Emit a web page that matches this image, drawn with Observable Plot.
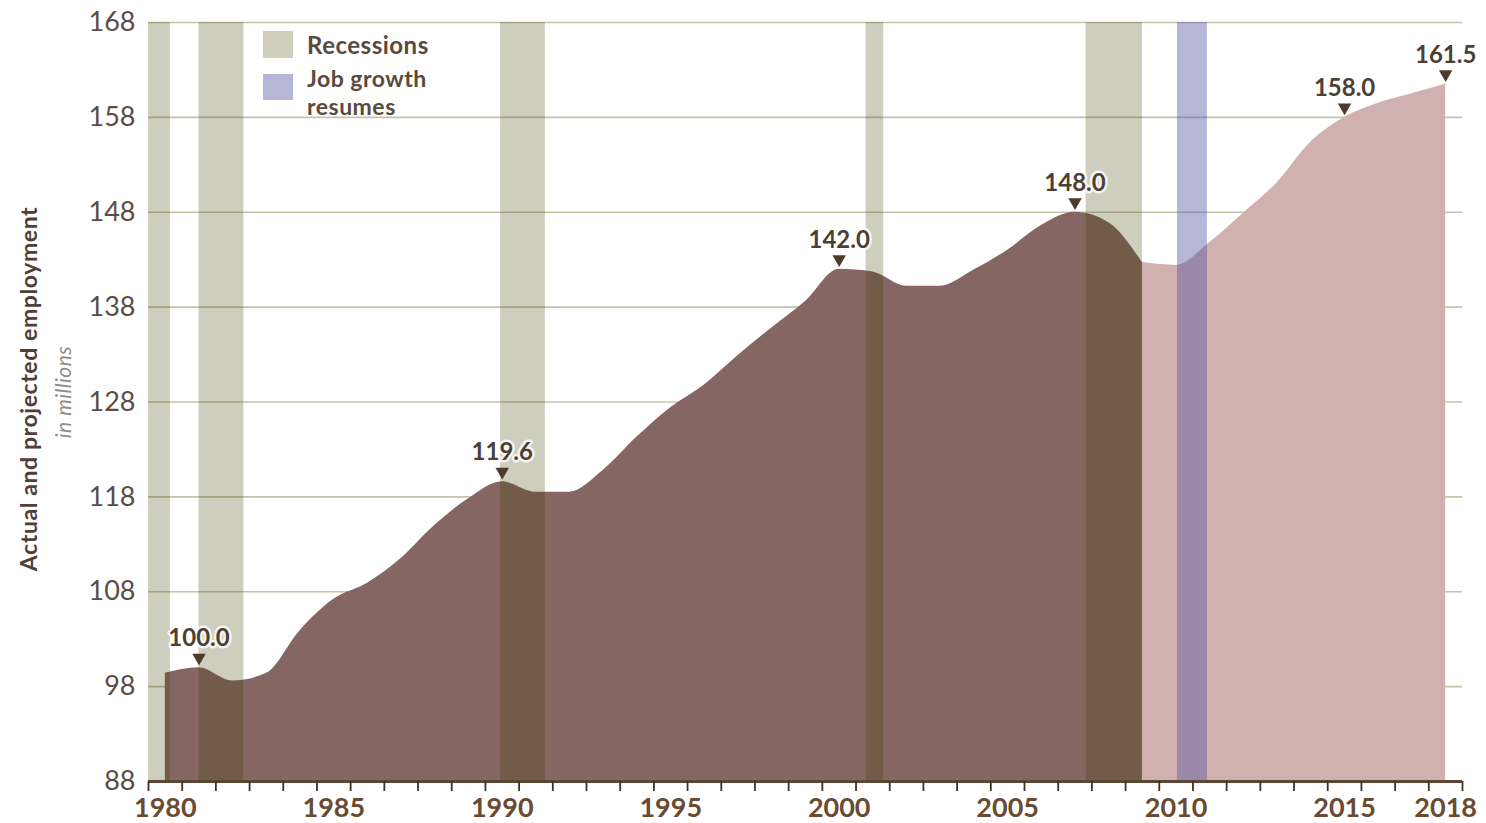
<!DOCTYPE html>
<html><head><meta charset="utf-8">
<script src="https://cdn.jsdelivr.net/npm/d3@7"></script>
<script src="https://cdn.jsdelivr.net/npm/@observablehq/plot@0.6"></script>
<style>
body{margin:0;background:#fff;font-family:Lato,"Open Sans",sans-serif;}
#wrap{position:relative;width:1486px;height:823px;overflow:hidden;}
#chart{position:absolute;left:0;top:0;}
.sw{position:absolute;left:263px;width:30px;}
.lt{position:absolute;left:307px;font-weight:700;font-size:24px;color:#5a4a3b;line-height:22px;white-space:nowrap;letter-spacing:0.5px;}
.yt{position:absolute;white-space:nowrap;transform:translate(-50%,-50%) rotate(-90deg);}
</style></head><body>
<div id="wrap">
  <div id="chart"></div>
  <div class="sw" style="top:31px;height:27px;background:#cfcfbc"></div>
  <div class="lt" style="top:34px">Recessions</div>
  <div class="sw" style="top:74px;height:26px;background:#b6b7d8"></div>
  <div class="lt" style="top:67px;font-size:23px">Job growth</div>
  <div class="lt" style="top:95px;font-size:23px">resumes</div>
  <div class="yt" style="left:28px;top:389px;font-weight:700;font-size:23px;letter-spacing:0.6px;color:#4e4036">Actual and projected employment</div>
  <div class="yt" style="left:62px;top:392px;font-style:italic;font-size:21px;letter-spacing:0.5px;color:#8c8c8c">in millions</div>
</div>
<script>
// Actual employment (millions), annual
const actualYears = [1980,1981,1982,1983,1984,1985,1986,1987,1988,1989,1990,1991,1992,1993,1994,1995,1996,1997,1998,1999,2000,2001,2002,2003,2004,2005,2006,2007,2008,2009];
const actualValues = [99.4,100.0,98.6,99.4,103.9,107.2,108.9,111.5,115.0,117.8,119.6,118.5,118.5,120.8,124.3,127.4,129.8,132.9,135.8,138.6,142.0,141.7,140.2,140.2,141.9,144.0,146.6,148.0,146.9,142.7];
// Projected employment (millions)
const projYears = [2009,2010,2011,2012,2013,2014,2015,2016,2017,2018];
const projValues = [142.7,142.4,144.8,147.9,151.1,155.4,158.0,159.5,160.5,161.5];
// Recession periods (fractional years)
const recStart = [1980.0,1981.5,1990.45,2001.3,2007.83];
const recEnd   = [1980.65,1982.83,1991.78,2001.82,2009.5];
// Job growth resumes
const jobStart = [2010.54];
const jobEnd   = [2011.43];
// Labelled values
const peakYears  = [1981,1990,2000,2007,2015,2018];
const peakValues = [100.0,119.6,142.0,148.0,158.0,161.5];
// Axis ticks
const yTicks = [88,98,108,118,128,138,148,158,168];
const xLabelYears = [1980,1985,1990,1995,2000,2005,2010,2015,2018];
const xTickYears = d3.range(1980, 2020);

const actual = actualYears.map((y,i)=>({year:y, value:actualValues[i]}));
const projected = projYears.map((y,i)=>({year:y, value:projValues[i]}));
const recessions = recStart.map((s,i)=>({start:s, end:recEnd[i]}));
const jobs = jobStart.map((s,i)=>({start:s, end:jobEnd[i]}));
const peaks = peakYears.map((y,i)=>({year:y, value:peakValues[i]}));
const mid = d => d.year + 0.5;

const chart = Plot.plot({
  width:1486, height:823,
  marginLeft:148, marginRight:24, marginTop:22, marginBottom:42,
  x:{domain:[1980,2019]},
  y:{domain:[88,168]},
  style:{fontFamily:"Lato, 'Open Sans', sans-serif", background:"transparent", overflow:"visible"},
  marks:[
    Plot.ruleY(yTicks.filter(d=>d>88), {stroke:"#c4c4a8", strokeWidth:1.6}),
    Plot.areaY(projected, {x:mid, y1:88, y2:"value", fill:"#d0b1af", curve:"monotone-x"}),
    Plot.areaY(actual, {x:mid, y1:88, y2:"value", fill:"#866662", curve:"monotone-x"}),
    Plot.rect(recessions, {x1:"start", x2:"end", y1:88, y2:168, fill:"#3c3c00", fillOpacity:0.25}),
    Plot.rect(jobs, {x1:"start", x2:"end", y1:88, y2:168, fill:"#484b9d", fillOpacity:0.4}),
    Plot.ruleY([88], {stroke:"#5b4636", strokeWidth:3}),
    Plot.axisX(xTickYears, {tickSize:10, tickFormat:()=>"", stroke:"#3e3028", strokeWidth:1.8, label:null}),
    Plot.axisX(xLabelYears.map(d=>d+0.5), {tickSize:0, tickPadding:16, tickFormat:d=>String(d-0.5), fontSize:27, fontWeight:"bold", fill:"#6a4a30", label:null}),
    Plot.axisY(yTicks, {tickSize:0, tickPadding:13, fontSize:27, fill:"#5b4d46", label:null}),
    Plot.dot(peaks, {x:mid, y:"value", symbol:"triangle", rotate:180, r:5, fill:"#4d3b2c", dy:-10}),
    Plot.text(peaks, {x:mid, y:"value", text:d=>d.value.toFixed(1), dy:-29, fontSize:24, fontWeight:"bold", fill:"#4d3f33", stroke:"white", strokeWidth:5, strokeOpacity:0.8})
  ]
});
document.getElementById("chart").appendChild(chart);
</script>
</body></html>
